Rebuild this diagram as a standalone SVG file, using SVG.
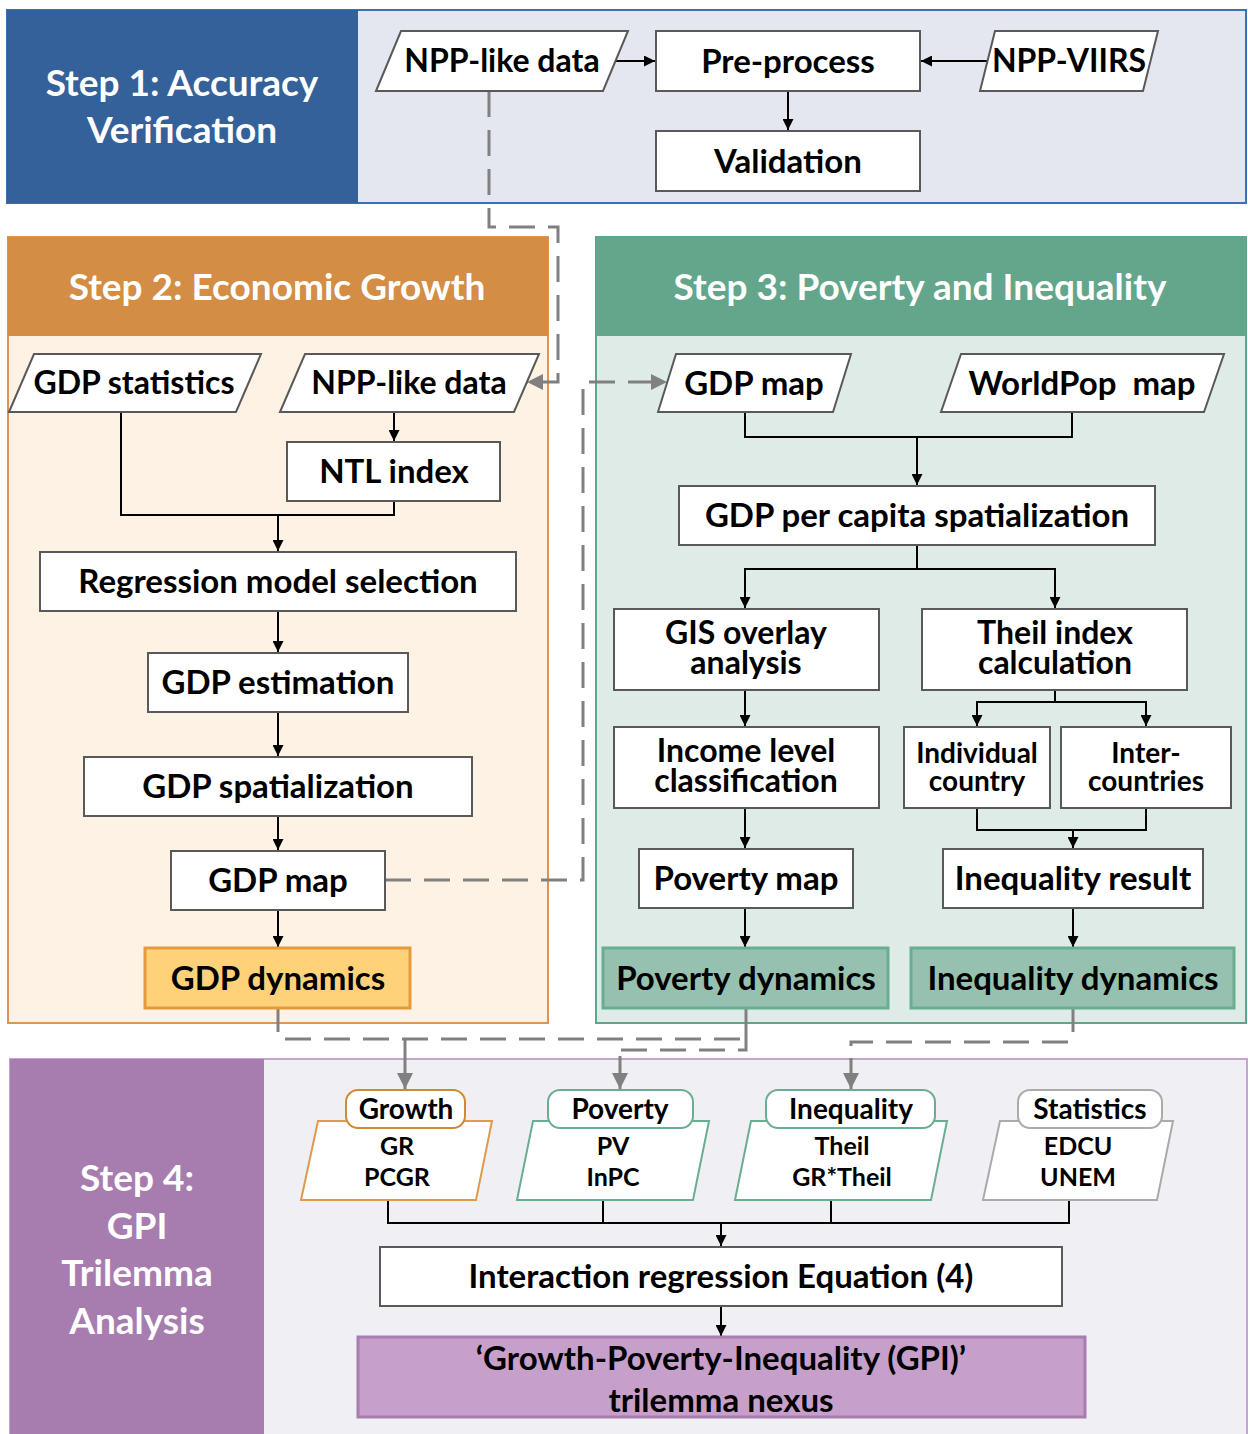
<svg xmlns="http://www.w3.org/2000/svg" width="1248" height="1434" viewBox="0 0 1248 1434">
<style>
.box{fill:#fff;stroke:#595959;stroke-width:2}
.t{font-family:Lato,"Liberation Sans",sans-serif;font-weight:700;fill:#000;text-anchor:middle;font-size:33px}
.s32{font-size:32px}
.s28{font-size:28px}
.s25{font-size:25px}
.hdr{fill:#fff;font-size:37px}
.c{fill:none;stroke:#000;stroke-width:2}
.d{fill:none;stroke:#808080;stroke-width:3;stroke-dasharray:26 13}
.g{fill:none;stroke:#808080;stroke-width:3}
</style>
<defs>
<marker id="a" viewBox="0 0 10 10" refX="10" refY="5" markerWidth="11" markerHeight="11" markerUnits="userSpaceOnUse" orient="auto"><path d="M0,0 L10,5 L0,10 z" fill="#000"/></marker>
<marker id="ga" viewBox="0 0 10 10" refX="10" refY="5" markerWidth="16" markerHeight="16" markerUnits="userSpaceOnUse" orient="auto"><path d="M0,0 L10,5 L0,10 z" fill="#808080"/></marker>
</defs>

<!-- Panels -->
<g id="step1">
<rect x="7" y="10" width="1239" height="193" fill="#E4E7EF" stroke="#3A70B0" stroke-width="2"/>
<rect x="7" y="10" width="351" height="193" fill="#34619A"/>
<text class="t hdr" x="182" y="96">Step 1: Accuracy</text>
<text class="t hdr" x="182" y="143">Verification</text>
</g>
<g id="step2">
<rect x="8" y="237" width="540" height="786" fill="#FDF2E3" stroke="#E0954C" stroke-width="2"/>
<rect x="8" y="237" width="540" height="99" fill="#D38D45"/>
<text class="t hdr" x="277" y="300">Step 2: Economic Growth</text>
</g>
<g id="step3">
<rect x="596" y="237" width="650" height="786" fill="#DFEBE7" stroke="#5FA58A" stroke-width="2"/>
<rect x="596" y="237" width="650" height="99" fill="#63A68C"/>
<text class="t hdr" x="920" y="300">Step 3: Poverty and Inequality</text>
</g>
<g id="step4">
<rect x="10" y="1059" width="1237" height="376" fill="#F0EFF4" stroke="#C7A3CD" stroke-width="2"/>
<rect x="10" y="1059" width="254" height="376" fill="#A77DAF"/>
<text class="t hdr" x="137" y="1191">Step 4:</text>
<text class="t hdr" x="137" y="1239">GPI</text>
<text class="t hdr" x="137" y="1286">Trilemma</text>
<text class="t hdr" x="137" y="1334">Analysis</text>
</g>

<!-- Connectors -->
<g id="connectors">
<path class="c" d="M615,61 H655" marker-end="url(#a)"/>
<path class="c" d="M987,61 H921" marker-end="url(#a)"/>
<path class="c" d="M788,91 V130" marker-end="url(#a)"/>
<path class="d" d="M489,91 V227 H558 V382 H527" marker-end="url(#ga)"/>
<path class="d" d="M385,880 H583 V382 H667" marker-end="url(#ga)"/>

<path class="c" d="M394,412 V441" marker-end="url(#a)"/>
<path class="c" d="M121,412 V515 H394 V501"/>
<path class="c" d="M278,515 V551" marker-end="url(#a)"/>
<path class="c" d="M278,611 V652" marker-end="url(#a)"/>
<path class="c" d="M278,712 V756" marker-end="url(#a)"/>
<path class="c" d="M278,816 V850" marker-end="url(#a)"/>
<path class="c" d="M278,910 V947" marker-end="url(#a)"/>

<path class="c" d="M745,412 V437 H1072 V412"/>
<path class="c" d="M917,437 V485" marker-end="url(#a)"/>
<path class="c" d="M917,545 V569 H745 V608" marker-end="url(#a)"/>
<path class="c" d="M917,569 H1055 V608" marker-end="url(#a)"/>
<path class="c" d="M745,690 V726" stroke-width="1.5" marker-end="url(#a)"/>
<path class="c" d="M1055,690 V702 H977 V726" marker-end="url(#a)"/>
<path class="c" d="M1055,702 H1146 V726" stroke-width="1.5" marker-end="url(#a)"/>
<path class="c" d="M977,808 V830 H1146 V808" stroke-width="1.5" stroke="#444"/>
<path class="c" d="M1073,830 V848" stroke-width="1.5" marker-end="url(#a)"/>
<path class="c" d="M745,808 V848" marker-end="url(#a)"/>
<path class="c" d="M745,908 V947" marker-end="url(#a)"/>
<path class="c" d="M1073,908 V947" marker-end="url(#a)"/>

<path class="g" d="M278,1008 V1032"/>
<path class="d" d="M285,1039 H740"/>
<path class="g" d="M405,1039 V1089" marker-end="url(#ga)"/>
<path class="g" d="M746,1008 V1032"/>
<path class="d" d="M746,1032 V1050 H620 V1060"/>
<path class="g" d="M620,1056 V1089" marker-end="url(#ga)"/>
<path class="g" d="M1073,1008 V1032"/>
<path class="d" d="M1068,1042 H851 V1060"/>
<path class="g" d="M851,1058 V1089" marker-end="url(#ga)"/>

<path class="c" d="M388,1200 V1223 H1069 V1200 M603,1200 V1223 M831,1200 V1223"/>
<path class="c" d="M721,1223 V1246" marker-end="url(#a)"/>
<path class="c" d="M721,1306 V1336" marker-end="url(#a)"/>
</g>

<!-- Step 1 nodes -->
<g id="s1-npplike"><polygon class="box" points="376,91 401,31 628,31 603,91"/><text class="t s32" x="502" y="72">NPP-like data</text></g>
<g id="s1-preprocess"><rect class="box" x="656" y="31" width="264" height="60"/><text class="t" x="788" y="73">Pre-process</text></g>
<g id="s1-nppviirs"><polygon class="box" points="980,91 995,31 1158,31 1143,91"/><text class="t s32" x="1069" y="72">NPP-VIIRS</text></g>
<g id="s1-validation"><rect class="box" x="656" y="131" width="264" height="60"/><text class="t" x="788" y="173">Validation</text></g>

<!-- Step 2 nodes -->
<g id="s2-gdpstat"><polygon class="box" points="9,412 34,354 261,354 236,412"/><text class="t s32" x="134" y="394">GDP statistics</text></g>
<g id="s2-npplike"><polygon class="box" points="280,412 305,354 539,354 514,412"/><text class="t s32" x="409" y="394">NPP-like data</text></g>
<g id="s2-ntl"><rect class="box" x="287" y="442" width="213" height="59"/><text class="t" x="394" y="483">NTL index</text></g>
<g id="s2-regression"><rect class="box" x="40" y="552" width="476" height="59"/><text class="t" x="278" y="593">Regression model selection</text></g>
<g id="s2-gdpest"><rect class="box" x="148" y="653" width="260" height="59"/><text class="t" x="278" y="694">GDP estimation</text></g>
<g id="s2-gdpspat"><rect class="box" x="84" y="757" width="388" height="59"/><text class="t" x="278" y="798">GDP spatialization</text></g>
<g id="s2-gdpmap"><rect class="box" x="171" y="851" width="214" height="59"/><text class="t" x="278" y="892">GDP map</text></g>
<g id="s2-gdpdyn"><rect x="145" y="948" width="265" height="60" fill="#FFD27A" stroke="#E59A3E" stroke-width="3"/><text class="t" x="278" y="990">GDP dynamics</text></g>

<!-- Step 3 nodes -->
<g id="s3-gdpmap"><polygon class="box" points="658,412 676,354 851,354 833,412"/><text class="t" x="754" y="395">GDP map</text></g>
<g id="s3-worldpop"><polygon class="box" points="941,412 961,354 1224,354 1204,412"/><text class="t" x="1082" y="395" style="white-space:pre">WorldPop  map</text></g>
<g id="s3-percapita"><rect class="box" x="679" y="486" width="476" height="59"/><text class="t" x="917" y="527">GDP per capita spatialization</text></g>
<g id="s3-gis"><rect class="box" x="614" y="609" width="265" height="81"/><text class="t s32" x="746" y="644">GIS overlay</text><text class="t s32" x="746" y="674">analysis</text></g>
<g id="s3-theil"><rect class="box" x="922" y="609" width="265" height="81"/><text class="t s32" x="1055" y="644">Theil index</text><text class="t s32" x="1055" y="674">calculation</text></g>
<g id="s3-income"><rect class="box" x="614" y="727" width="265" height="81"/><text class="t s32" x="746" y="762">Income level</text><text class="t s32" x="746" y="792">classification</text></g>
<g id="s3-individual"><rect class="box" x="904" y="727" width="146" height="81"/><text class="t s28" x="977" y="763">Individual</text><text class="t s28" x="977" y="791">country</text></g>
<g id="s3-inter"><rect class="box" x="1061" y="727" width="170" height="81"/><text class="t s28" x="1146" y="763">Inter-</text><text class="t s28" x="1146" y="791">countries</text></g>
<g id="s3-povmap"><rect class="box" x="639" y="849" width="214" height="59"/><text class="t" x="746" y="890">Poverty map</text></g>
<g id="s3-ineqres"><rect class="box" x="943" y="849" width="260" height="59"/><text class="t" x="1073" y="890">Inequality result</text></g>
<g id="s3-povdyn"><rect x="603" y="948" width="285" height="60" fill="#96C1B0" stroke="#6AAE92" stroke-width="3"/><text class="t" x="746" y="990">Poverty dynamics</text></g>
<g id="s3-ineqdyn"><rect x="911" y="948" width="323" height="60" fill="#96C1B0" stroke="#6AAE92" stroke-width="3"/><text class="t" x="1073" y="990">Inequality dynamics</text></g>

<!-- Step 4 nodes -->
<g id="s4-growth">
<polygon points="301,1200 318,1121 492,1121 476,1200" fill="#fff" stroke="#E09A4E" stroke-width="2"/>
<rect x="346" y="1090" width="119" height="38" rx="12" fill="#fff" stroke="#D08A30" stroke-width="2"/>
<text class="t s28" x="406" y="1119">Growth</text>
<text class="t s25" x="397" y="1155">GR</text><text class="t s25" x="397" y="1186">PCGR</text>
</g>
<g id="s4-poverty">
<polygon points="517,1200 533,1121 709,1121 693,1200" fill="#fff" stroke="#6AAE92" stroke-width="2"/>
<rect x="548" y="1090" width="145" height="38" rx="12" fill="#fff" stroke="#6AAE92" stroke-width="2"/>
<text class="t s28" x="620" y="1119">Poverty</text>
<text class="t s25" x="613" y="1155">PV</text><text class="t s25" x="613" y="1186">InPC</text>
</g>
<g id="s4-inequality">
<polygon points="735,1200 751,1121 947,1121 931,1200" fill="#fff" stroke="#6AAE92" stroke-width="2"/>
<rect x="766" y="1090" width="169" height="38" rx="12" fill="#fff" stroke="#6AAE92" stroke-width="2"/>
<text class="t s28" x="851" y="1119">Inequality</text>
<text class="t s25" x="842" y="1155">Theil</text><text class="t s25" x="842" y="1186">GR*Theil</text>
</g>
<g id="s4-statistics">
<polygon points="983,1200 1000,1121 1173,1121 1157,1200" fill="#fff" stroke="#AAAAAA" stroke-width="2"/>
<rect x="1018" y="1090" width="144" height="38" rx="12" fill="#fff" stroke="#AAAAAA" stroke-width="2"/>
<text class="t s28" x="1090" y="1119">Statistics</text>
<text class="t s25" x="1078" y="1155">EDCU</text><text class="t s25" x="1078" y="1186">UNEM</text>
</g>
<g id="s4-interaction"><rect class="box" x="380" y="1247" width="682" height="59"/><text class="t" x="721" y="1288">Interaction regression Equation (4)</text></g>
<g id="s4-gpi"><rect x="358" y="1337" width="727" height="80" fill="#C6A0CA" stroke="#A77DB0" stroke-width="3"/><text class="t" x="721" y="1370">‘Growth-Poverty-Inequality (GPI)’</text><text class="t" x="721" y="1412">trilemma nexus</text></g>
</svg>
